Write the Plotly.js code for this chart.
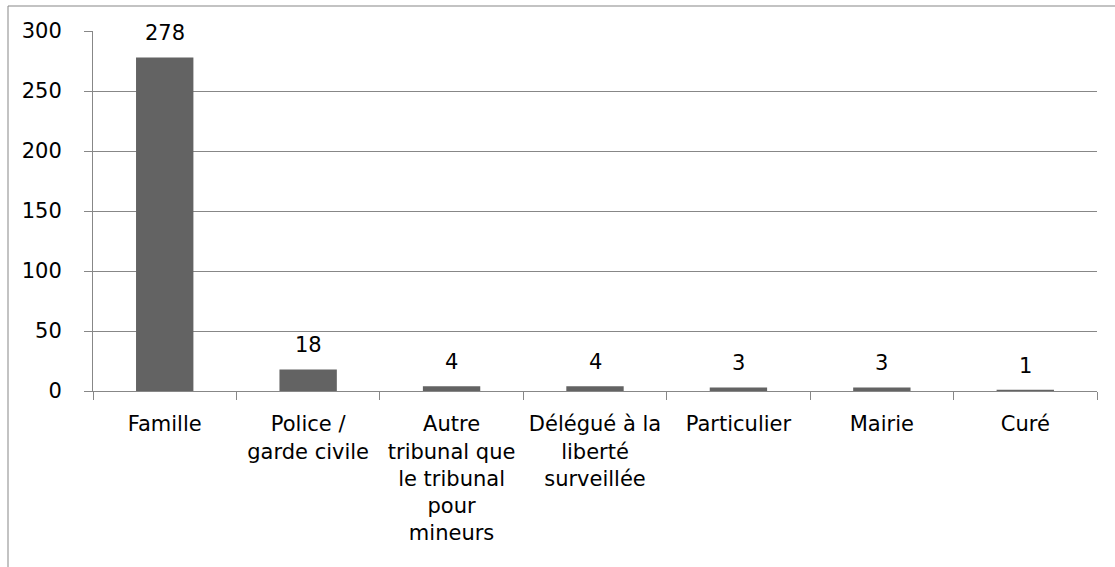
<!DOCTYPE html>
<html><head><meta charset="utf-8">
<script src="https://cdn.plot.ly/plotly-3.0.1.min.js"></script>
<style>body{margin:0;padding:0;background:#fff}#chart{width:1115px;height:567px}</style>
</head><body><div id="chart"></div>
<script>
const categories = ["Famille", "Police /<br>garde civile", "Autre<br>tribunal que<br>le tribunal<br>pour<br>mineurs", "Délégué à la<br>liberté<br>surveillée", "Particulier", "Mairie", "Curé"];
const values = [278, 18, 4, 4, 3, 3, 1];
const labels = ["278", "18", "4", "4", "3", "3", "1"];
const yTicks = [0, 50, 100, 150, 200, 250, 300];

const font = {family: "DejaVu Sans, Verdana, sans-serif", size: 21, color: "#000"};
const trace = {
  type: "bar", x: categories, y: values, width: 0.4,
  marker: {color: "#636363"}, hoverinfo: "skip"
};
const annotations = categories.map((c, i) => ({
  x: c, y: values[i], xref: "x", yref: "y", text: labels[i],
  showarrow: false, yanchor: "bottom", yshift: 10, font: font
}));
const L = 93, R = 18, T = 31, B = 176, W = 1115, H = 567;
const pw = W - L - R, ph = H - T - B;
const layout = {
  width: W, height: H, margin: {l: L, r: R, t: T, b: B},
  paper_bgcolor: "#fff", plot_bgcolor: "#fff", showlegend: false, font: font,
  xaxis: {type: "category", tickson: "boundaries", ticks: "outside", ticklen: 8, tickcolor: "#878787",
    showline: true, linecolor: "#878787", showgrid: false, tickfont: font, ticklabelstandoff: 14, fixedrange: true},
  yaxis: {range: [0, 300], tickvals: yTicks, ticks: "outside", ticklen: 8, tickcolor: "#878787",
    showline: true, linecolor: "#878787", gridcolor: "#878787", gridwidth: 1, zeroline: false,
    tickfont: font, ticklabelstandoff: 18, fixedrange: true},
  annotations: annotations,
  shapes: [{type: "rect", xref: "paper", yref: "paper",
    x0: (8 - L) / pw, x1: (W + 20 - L) / pw, y0: -(H + 20 - (T + ph)) / ph, y1: (T + ph - 6) / ph,
    line: {color: "#878787", width: 1}, fillcolor: "rgba(0,0,0,0)", layer: "below"}]
};
Plotly.newPlot("chart", [trace], layout, {staticPlot: true, displayModeBar: false});
</script></body></html>
